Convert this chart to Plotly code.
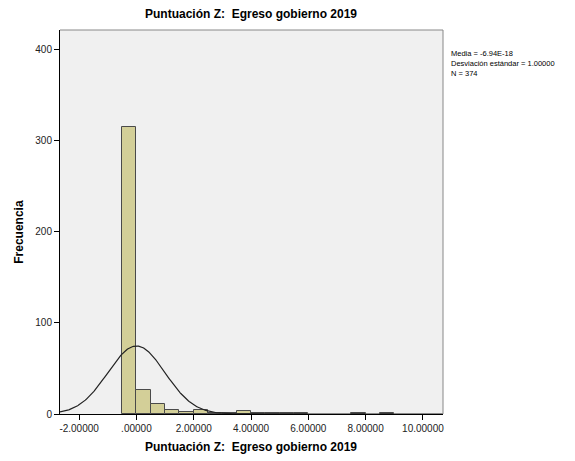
import numpy as np
import plotly.graph_objects as go

# Histogram bins (left edges) and counts
bin_left = [-0.5, 0.0, 0.5, 1.0, 1.5, 2.0, 2.5, 3.0, 3.5, 4.0, 4.5, 5.0, 5.5, 7.5, 8.5]
counts   = [315, 26, 11, 4, 2, 4, 1, 1, 3, 1, 1, 1, 1, 1, 1]
bin_width = 0.5

mean_val = -6.94e-18
sd_val = 1.0
n_val = 374

x_ticks = [-2, 0, 2, 4, 6, 8, 10]
x_tick_labels = ["-2.00000", ".00000", "2.00000", "4.00000", "6.00000", "8.00000", "10.00000"]
y_ticks = [0, 100, 200, 300, 400]

centers = [b + bin_width / 2 for b in bin_left]

# Normal curve scaled to histogram
xc = np.linspace(-2.7, 10.7, 600)
yc = n_val * bin_width * np.exp(-0.5 * ((xc - mean_val) / sd_val) ** 2) / (sd_val * np.sqrt(2 * np.pi))

fig = go.Figure()
fig.add_trace(go.Bar(
    x=centers, y=counts, width=bin_width,
    marker=dict(color="#D3CF98", line=dict(color="#4a4a4a", width=1)),
    hoverinfo="x+y",
))
fig.add_trace(go.Scatter(
    x=xc, y=yc, mode="lines",
    line=dict(color="#222222", width=1.2),
    hoverinfo="skip",
))

font_family = "Liberation Sans, Arial, sans-serif"
OFF = 8  # page body margin
L, R, T, B = 60 - OFF, 443 - OFF, 30 - OFF, 414.5 - OFF
W, H = 575 - OFF, 461 - OFF

fig.update_layout(
    width=W, height=H,
    margin=dict(l=L, r=W - R, t=T, b=H - B, autoexpand=False),
    paper_bgcolor="white",
    plot_bgcolor="#F0F0F0",
    showlegend=False,
    bargap=0,
    font=dict(family=font_family, size=10, color="#222222"),
    xaxis=dict(
        range=[-2.667, 10.70],
        tickvals=x_ticks, ticktext=x_tick_labels,
        ticks="outside", ticklen=5, tickcolor="#000000",
        showgrid=False, zeroline=False,
        showline=True, linecolor="#000000", linewidth=1,
        automargin=False,
        tickfont=dict(size=10, color="#222222"),
    ),
    yaxis=dict(
        range=[0, 421],
        tickvals=y_ticks,
        ticks="outside", ticklen=5, tickcolor="#000000",
        showgrid=False, zeroline=False,
        showline=True, linecolor="#000000", linewidth=1,
        automargin=False,
        tickfont=dict(size=10, color="#222222"),
    ),
    shapes=[
        dict(type="line", xref="paper", yref="paper", x0=0, x1=1, y0=1, y1=1,
             line=dict(color="#888888", width=1)),
        dict(type="line", xref="paper", yref="paper", x0=1, x1=1, y0=0, y1=1,
             line=dict(color="#888888", width=1)),
    ],
)

pw, ph = R - L, B - T

def px(xpix):
    return (xpix - OFF - L) / pw

def py(ypix):
    return (B - (ypix - OFF)) / ph

# Titles
fig.add_annotation(text="<b>Puntuación Z:  Egreso gobierno 2019</b>",
                   xref="paper", yref="paper", x=px(251), y=py(14),
                   xanchor="center", yanchor="middle", showarrow=False,
                   font=dict(size=12, color="#000000"))
fig.add_annotation(text="<b>Puntuación Z:  Egreso gobierno 2019</b>",
                   xref="paper", yref="paper", x=px(251), y=py(448),
                   xanchor="center", yanchor="middle", showarrow=False,
                   font=dict(size=12, color="#000000"))
fig.add_annotation(text="<b>Frecuencia</b>",
                   xref="paper", yref="paper", x=px(19), y=py(232),
                   xanchor="center", yanchor="middle", showarrow=False,
                   textangle=-90, font=dict(size=12, color="#000000"))

stats_text = "<br>".join([
    "Media = -6.94E-18",
    f"Desviación estándar = {sd_val:.5f}",
    f"N = {n_val}",
])
fig.add_annotation(
    text=stats_text, xref="paper", yref="paper",
    x=px(449), xanchor="left", align="left",
    y=py(47), yanchor="top",
    showarrow=False, font=dict(size=7.5, color="#000000"),
)

fig.write_html("out.html")
